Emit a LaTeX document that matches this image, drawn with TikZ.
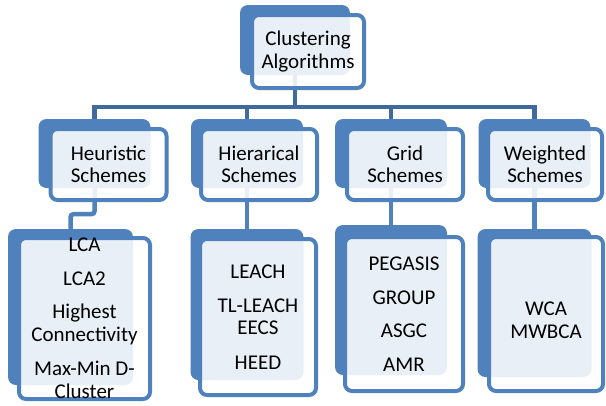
\documentclass[tikz,border=0pt]{standalone}
\usepackage{fontspec}
\setmainfont{Carlito}
\usetikzlibrary{positioning}
\definecolor{nodeblue}{RGB}{79,129,189}
\definecolor{treeblue}{RGB}{64,106,156}
\tikzset{
  backbox/.style={fill=nodeblue, draw=none, rounded corners=8pt,
                  inner sep=0pt},
  framebox/.style={draw=nodeblue, line width=4pt, fill=white,
                   fill opacity=0.88, text opacity=1, rounded corners=7pt,
                   inner sep=0pt, align=center,
                   font=\fontsize{21}{22.5}\selectfont},
  tree/.style={treeblue, line width=4.5pt},
  link/.style={nodeblue, line width=4.5pt},
}
\begin{document}
\begin{tikzpicture}[x=1pt,y=-1pt]
  \useasboundingbox (0,0) rectangle (606,405);

  % back plates
  \node[backbox, minimum width=110pt, minimum height=70pt] (root) at (295,40) {};
  \node[backbox, minimum width=112pt, minimum height=69pt] (heur) at (94.5,153.5) {};
  \node[backbox, minimum width=112pt, minimum height=69pt] (hier) at (247,153.5) {};
  \node[backbox, minimum width=112pt, minimum height=69pt] (grid) at (391,153.5) {};
  \node[backbox, minimum width=112pt, minimum height=69pt] (weigh) at (534.5,153.5) {};
  \node[backbox, minimum width=125pt, minimum height=156pt] (heurL) at (70.5,307) {};
  \node[backbox, minimum width=113pt, minimum height=151pt] (hierL) at (247,304.5) {};
  \node[backbox, minimum width=112pt, minimum height=150pt] (gridL) at (391,300) {};
  \node[backbox, minimum width=114pt, minimum height=148pt] (weighL) at (534.5,303) {};

  % connectors
  \coordinate (bar) at (0,107);
  \draw[tree] (root.south) -- (root.south |- bar) -| (heur.north);
  \draw[tree] (root.south |- bar) -| (hier.north);
  \draw[tree] (root.south |- bar) -| (grid.north);
  \draw[tree] (root.south |- bar) -| (weigh.north);
  \draw[link, rounded corners=3pt] (heur.south) -- ++(0,26) -| (heurL.north);
  \draw[link] (hier.south) -- (hierL.north);
  \draw[link] (grid.south) -- (gridL.north);
  \draw[link] (weigh.south) -- (weighL.north);

  % frames with labels
  \node[framebox, minimum width=112pt, minimum height=73pt] (rootF) at (308,51.5)
    {Clustering\\Algorithms};
  \node[framebox, minimum width=116pt, minimum height=71pt] (heurF) at (108.5,164.5)
    {Heuristic\\Schemes};
  \node[framebox, minimum width=116pt, minimum height=71pt] (hierF) at (259,164.5)
    {Hierarical\\Schemes};
  \node[framebox, minimum width=116pt, minimum height=71pt] (gridF) at (405,164.5)
    {Grid\\Schemes};
  \node[framebox, minimum width=114pt, minimum height=71pt] (weighF) at (545,164.5)
    {Weighted\\Schemes};
  \node[framebox, minimum width=131pt, minimum height=161pt] (heurLF) at (84.5,318.5)
    {LCA\\[11pt]LCA2\\[11pt]Highest\\Connectivity\\[12pt]Max-Min D-\\Cluster};
  \node[framebox, minimum width=116pt, minimum height=156pt] (hierLF) at (258,317)
    {LEACH\\[11pt]TL-LEACH\\EECS\\[12pt]HEED};
  \node[framebox, minimum width=118pt, minimum height=154pt] (gridLF) at (404,314)
    {PEGASIS\\[11pt]GROUP\\[11pt]ASGC\\[11pt]AMR};
  \node[framebox, minimum width=114pt, minimum height=154pt] (weighLF) at (546,314)
    {\rule{0pt}{26pt}WCA\\MWBCA};
\end{tikzpicture}
\end{document}
